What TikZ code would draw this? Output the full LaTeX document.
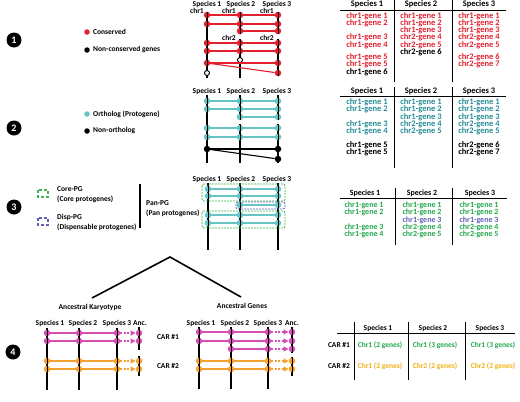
\documentclass[tikz,border=0pt]{standalone}
\usepackage{fontspec}
\setmainfont{Carlito}
\usepackage{tikz}
\usetikzlibrary{arrows.meta}

\definecolor{cRed}{RGB}{228,32,46}
\definecolor{cTeal}{RGB}{102,196,196}
\definecolor{cTealT}{RGB}{38,140,150}
\definecolor{cGreen}{RGB}{34,168,76}
\definecolor{cGreenB}{RGB}{60,180,80}
\definecolor{cPurple}{RGB}{96,96,184}
\definecolor{cPink}{RGB}{214,78,180}
\definecolor{cOrange}{RGB}{246,160,48}
\definecolor{cYellow}{RGB}{240,176,20}

\tikzset{
	gdot/.style={circle, inner sep=0pt, minimum size=6.5pt, path picture={\fill[black] ([xshift=-0.4pt]path picture bounding box.north) rectangle ([xshift=0.4pt]path picture bounding box.south);}},
	rdot/.style={gdot, fill=cRed},
	tdot/.style={gdot, fill=cTeal},
	kdot/.style={gdot, fill=black},
	pdot/.style={gdot, fill=cPink},
	ydot/.style={gdot, fill=cOrange},
	odot/.style={circle, draw=black, fill=white, line width=0.9pt, inner sep=0pt, minimum size=5pt},
	ldot/.style={circle, inner sep=0pt, minimum size=5.5pt},
	chrom/.style={line width=2.2pt},
	glink/.style={line width=1.1pt},
	anclink/.style={line width=1.1pt, dash pattern=on 2pt off 1.5pt, -{Triangle[length=5pt,width=5pt]}},
	num/.style={circle, fill=black, text=white, inner sep=0pt, minimum size=15pt, font=\bfseries\fontsize{10}{10}\selectfont},
	tlbl/.style={inner sep=0pt, font=\bfseries\fontsize{7.5}{8}\selectfont},
	tbig/.style={inner sep=0pt, font=\bfseries\fontsize{8.5}{8.5}\selectfont},
	tmed/.style={inner sep=0pt, font=\bfseries\fontsize{8}{8}\selectfont},
	trule/.style={line width=0.9pt},
	pgbox/.style={dash pattern=on 2pt off 1pt, rounded corners=2pt, line width=0.8pt},
	pgicon/.style={line width=1.6pt, dash pattern=on 3pt off 2pt},
}

\begin{document}
\begin{tikzpicture}[x=1pt, y=-1pt]
		%%%%% START %%%%%
		\useasboundingbox (0,0) rectangle (520,402);
		
		%%% panel 1
		\node[num] (n1) at (14,40) {1};
		\node[ldot, fill=cRed] (lgA1) at (87,32) {};
		\node[tlbl, anchor=west] (lgA1t) at (93,32) {Conserved};
		\node[ldot, fill=black] (lgA2) at (87,50) {};
		\node[tlbl, anchor=west] (lgA2t) at (93,50) {Non-conserved genes};
		
		\node[tlbl] (hA1) at (207,4) {Species 1};
		\node[tlbl] (hA2) at (241,4) {Species 2};
		\node[tlbl] (hA3) at (277,4) {Species 3};
		\node[tlbl, anchor=east] (cA1) at (204,11) {chr1};
		\node[tlbl, anchor=east] (cA2) at (236,11) {chr1};
		\node[tlbl, anchor=east] (cA3) at (274,11) {chr1};
		\node[tlbl, anchor=east] (cA4) at (236,38) {chr2};
		\node[tlbl, anchor=east] (cA5) at (274,38) {chr2};
		
		\draw[chrom] (207,13) -- (207,78);
		\draw[chrom] (240,13) -- (240,34);
		\draw[chrom] (240,39) -- (240,78);
		\draw[chrom] (278,13) -- (278,34);
		\draw[chrom] (278,39) -- (278,76);
		
		\node[rdot] (A11) at (207,15) {};
		\node[rdot] (A12) at (207,24) {};
		\node[rdot] (A14) at (207,43) {};
		\node[rdot] (A15) at (207,51) {};
		\node[rdot] (A16) at (207,63) {};
		\node[odot] (A17) at (207,73) {};
		\node[rdot] (A21) at (240,15) {};
		\node[rdot] (A22) at (240,24) {};
		\node[rdot] (A23) at (240,31) {};
		\node[rdot] (A24) at (240,43) {};
		\node[rdot] (A25) at (240,51) {};
		\node[odot] (A26) at (240,60) {};
		\node[rdot] (A31) at (278,15) {};
		\node[rdot] (A32) at (278,24) {};
		\node[rdot] (A33) at (278,31) {};
		\node[rdot] (A34) at (278,43) {};
		\node[rdot] (A35) at (278,51) {};
		\node[rdot] (A36) at (278,63) {};
		\node[rdot] (A37) at (278,73) {};
		
		\draw[glink, cRed] (A11) -- (A21) -- (A31);
		\draw[glink, cRed] (A12) -- (A22) -- (A32);
		\draw[glink, cRed] (A23) -- (A33);
		\draw[glink, cRed] (A14) -- (A24) -- (A34);
		\draw[glink, cRed] (A15) -- (A25) -- (A35);
		\draw[glink, cRed] (A16) -- (A36);
		\draw[glink, cRed] (A16) -- (A37);
		
		% table 1
		\node[tbig] (TA1) at (367,4) {Species 1};
		\node[tbig] (TA2) at (421,4) {Species 2};
		\node[tbig] (TA3) at (479,4) {Species 3};
		\draw[trule] (340,10) -- (506,10);
		\draw[trule] (394,0) -- (394,82);
		\draw[trule] (452,0) -- (452,82);
		
		\node[tbig, cRed] (gA11) at (367,16) {chr1-gene 1};
		\node[tbig, cRed] (gA12) at (367,23.5) {chr1-gene 2};
		\node[tbig, cRed] (gA13) at (367,37.5) {chr1-gene 3};
		\node[tbig, cRed] (gA14) at (367,45) {chr1-gene 4};
		\node[tbig, cRed] (gA15) at (367,57) {chr1-gene 5};
		\node[tbig, cRed] (gA16) at (367,64.5) {chr1-gene 5};
		\node[tbig] (gA17) at (367,72) {chr1-gene 6};
		\node[tbig, cRed] (gA21) at (421,16) {chr1-gene 1};
		\node[tbig, cRed] (gA22) at (421,23.5) {chr1-gene 2};
		\node[tbig, cRed] (gA23) at (421,30.5) {chr1-gene 3};
		\node[tbig, cRed] (gA24) at (421,37.5) {chr2-gene 4};
		\node[tbig, cRed] (gA25) at (421,45) {chr2-gene 5};
		\node[tbig] (gA26) at (421,52) {chr2-gene 6};
		\node[tbig, cRed] (gA31) at (479,16) {chr1-gene 1};
		\node[tbig, cRed] (gA32) at (479,23.5) {chr1-gene 2};
		\node[tbig, cRed] (gA33) at (479,30.5) {chr1-gene 3};
		\node[tbig, cRed] (gA34) at (479,37.5) {chr2-gene 4};
		\node[tbig, cRed] (gA35) at (479,45) {chr2-gene 5};
		\node[tbig, cRed] (gA36) at (479,57) {chr2-gene 6};
		\node[tbig, cRed] (gA37) at (479,64.5) {chr2-gene 7};
		
		%%% panel 2
		\node[num] (n2) at (14,128) {2};
		\node[ldot, fill=cTeal] (lgB1) at (87,114) {};
		\node[tlbl, anchor=west] (lgB1t) at (93,114) {Ortholog (Protogene)};
		\node[ldot, fill=black] (lgB2) at (87,131) {};
		\node[tlbl, anchor=west] (lgB2t) at (93,131) {Non-ortholog};
		
		\node[tlbl] (hB1) at (207,91) {Species 1};
		\node[tlbl] (hB2) at (241,91) {Species 2};
		\node[tlbl] (hB3) at (277,91) {Species 3};
		
		\draw[chrom] (207,95) -- (207,163);
		\draw[chrom] (240,95) -- (240,120);
		\draw[chrom] (240,124) -- (240,163);
		\draw[chrom] (278,95) -- (278,120);
		\draw[chrom] (278,124) -- (278,163);
		
		\node[tdot] (B11) at (207,101) {};
		\node[tdot] (B12) at (207,109) {};
		\node[tdot] (B14) at (207,128) {};
		\node[tdot] (B15) at (207,137) {};
		\node[kdot] (B16) at (207,149) {};
		\node[tdot] (B21) at (240,101) {};
		\node[tdot] (B22) at (240,109) {};
		\node[tdot] (B23) at (240,117) {};
		\node[tdot] (B24) at (240,128) {};
		\node[tdot] (B25) at (240,137) {};
		\node[tdot] (B31) at (278,101) {};
		\node[tdot] (B32) at (278,109) {};
		\node[tdot] (B33) at (278,117) {};
		\node[tdot] (B34) at (278,128) {};
		\node[tdot] (B35) at (278,137) {};
		\node[kdot] (B36) at (278,149) {};
		\node[kdot] (B37) at (278,159) {};
		
		\draw[glink, cTeal] (B11) -- (B21) -- (B31);
		\draw[glink, cTeal] (B12) -- (B22) -- (B32);
		\draw[glink, cTeal] (B23) -- (B33);
		\draw[glink, cTeal] (B14) -- (B24) -- (B34);
		\draw[glink, cTeal] (B15) -- (B25) -- (B35);
		\draw[glink] (B16) -- (B36);
		\draw[glink] (B16) -- (B37);
		
		% table 2
		\node[tbig] (TB1) at (367,91) {Species 1};
		\node[tbig] (TB2) at (421,91) {Species 2};
		\node[tbig] (TB3) at (479,91) {Species 3};
		\draw[trule] (340,96) -- (506,96);
		\draw[trule] (394,87) -- (394,168);
		\draw[trule] (452,87) -- (452,168);
		
		\node[tbig, cTealT] (gB11) at (367,102) {chr1-gene 1};
		\node[tbig, cTealT] (gB12) at (367,109) {chr1-gene 2};
		\node[tbig, cTealT] (gB13) at (367,124.5) {chr1-gene 3};
		\node[tbig, cTealT] (gB14) at (367,131.5) {chr1-gene 4};
		\node[tbig] (gB15) at (367,145) {chr1-gene 5};
		\node[tbig] (gB16) at (367,152) {chr1-gene 5};
		\node[tbig, cTealT] (gB21) at (421,102) {chr1-gene 1};
		\node[tbig, cTealT] (gB22) at (421,109) {chr1-gene 2};
		\node[tbig, cTealT] (gB23) at (421,117) {chr1-gene 3};
		\node[tbig, cTealT] (gB24) at (421,124.5) {chr2-gene 4};
		\node[tbig, cTealT] (gB25) at (421,131.5) {chr2-gene 5};
		\node[tbig, cTealT] (gB31) at (479,102) {chr1-gene 1};
		\node[tbig, cTealT] (gB32) at (479,109) {chr1-gene 2};
		\node[tbig, cTealT] (gB33) at (479,117) {chr1-gene 3};
		\node[tbig, cTealT] (gB34) at (479,124.5) {chr2-gene 4};
		\node[tbig, cTealT] (gB35) at (479,131.5) {chr2-gene 5};
		\node[tbig] (gB36) at (479,145) {chr2-gene 6};
		\node[tbig] (gB37) at (479,152) {chr2-gene 7};
		
		%%% panel 3
		\node[num] (n3) at (14,207) {3};
		\draw[pgicon, cGreenB] (38,190) rectangle (48,197);
		\node[tlbl, anchor=west] (lgC1) at (57,189) {Core-PG};
		\node[tlbl, anchor=west] (lgC1b) at (57,199) {(Core protogenes)};
		\draw[pgicon, cPurple] (38,218) rectangle (48,225);
		\node[tlbl, anchor=west] (lgC2) at (57,217) {Disp-PG};
		\node[tlbl, anchor=west] (lgC2b) at (57,227) {(Dispensable protogenes)};
		\draw[line width=1.6pt] (140,184) -- (140,228);
		\node[tlbl, anchor=west] (lgC3) at (146,203) {Pan-PG};
		\node[tlbl, anchor=west] (lgC3b) at (146,213) {(Pan protogenes)};
		
		\node[tlbl] (hC1) at (207,179) {Species 1};
		\node[tlbl] (hC2) at (241,179) {Species 2};
		\node[tlbl] (hC3) at (277,179) {Species 3};
		
		\draw[chrom] (208,183) -- (208,250);
		\draw[chrom] (240,183) -- (240,250);
		\draw[chrom] (278,183) -- (278,250);
		
		\node[tdot] (C11) at (208,189) {};
		\node[tdot] (C12) at (208,196) {};
		\node[tdot] (C14) at (208,215) {};
		\node[tdot] (C15) at (208,223) {};
		\node[tdot] (C21) at (240,189) {};
		\node[tdot] (C22) at (240,196) {};
		\node[tdot] (C23) at (240,205) {};
		\node[tdot] (C24) at (240,215) {};
		\node[tdot] (C25) at (240,223) {};
		\node[tdot] (C31) at (278,189) {};
		\node[tdot] (C32) at (278,196) {};
		\node[tdot] (C33) at (278,205) {};
		\node[tdot] (C34) at (278,215) {};
		\node[tdot] (C35) at (278,223) {};
		
		\draw[glink, cTeal] (C11) -- (C21) -- (C31);
		\draw[glink, cTeal] (C12) -- (C22) -- (C32);
		\draw[glink, cTeal] (C23) -- (C33);
		\draw[glink, cTeal] (C14) -- (C24) -- (C34);
		\draw[glink, cTeal] (C15) -- (C25) -- (C35);
		
		\draw[pgbox, cGreenB] (202,184) rectangle (285,201);
		\draw[pgbox, cPurple] (236,202) rectangle (285,209);
		\draw[pgbox, cGreenB] (202,211) rectangle (285,228);
		
		% table 3
		\node[tmed] (TC1) at (365,193) {Species 1};
		\node[tmed] (TC2) at (422,193) {Species 2};
		\node[tmed] (TC3) at (480,193) {Species 3};
		\draw[trule] (340,198) -- (507,198);
		\draw[trule] (395,188) -- (395,245);
		\draw[trule] (452,188) -- (452,245);
		
		\node[tmed, cGreen] (gC11) at (364,205) {chr1-gene 1};
		\node[tmed, cGreen] (gC12) at (364,212.7) {chr1-gene 2};
		\node[tmed, cGreen] (gC13) at (364,227.3) {chr1-gene 3};
		\node[tmed, cGreen] (gC14) at (364,234) {chr1-gene 4};
		\node[tmed, cGreen] (gC21) at (422,205) {chr1-gene 1};
		\node[tmed, cGreen] (gC22) at (422,212.7) {chr1-gene 2};
		\node[tmed, cPurple] (gC23) at (422,220.3) {chr1-gene 3};
		\node[tmed, cGreen] (gC24) at (422,227.3) {chr2-gene 4};
		\node[tmed, cGreen] (gC25) at (422,234) {chr2-gene 5};
		\node[tmed, cGreen] (gC31) at (479,205) {chr1-gene 1};
		\node[tmed, cGreen] (gC32) at (479,212.7) {chr1-gene 2};
		\node[tmed, cPurple] (gC33) at (479,220.3) {chr1-gene 3};
		\node[tmed, cGreen] (gC34) at (479,227.3) {chr2-gene 4};
		\node[tmed, cGreen] (gC35) at (479,234) {chr2-gene 5};
		
		% split
		\draw[line width=1.6pt] (92,298) -- (170,257) -- (241,297);
		
		%%% panel 4
		\node[num] (n4) at (13,352) {4};
		\node[tlbl] (kary) at (90,307) {Ancestral Karyotype};
		\node[tlbl] (agen) at (242,306) {Ancestral Genes};
		
		% ancestral karyotype
		\node[tlbl] (hD1) at (50,323) {Species 1};
		\node[tlbl] (hD2) at (83,323) {Species 2};
		\node[tlbl] (hD3) at (117,323) {Species 3};
		\node[tlbl] (hD4) at (140,323) {Anc.};
		
		\draw[chrom] (47,328) -- (47,390);
		\draw[chrom] (79,328) -- (79,390);
		\draw[chrom] (117,328) -- (117,390);
		\draw[chrom] (139,327) -- (139,350);
		\draw[chrom] (139,356) -- (139,376);
		
		\node[pdot] (D11) at (47,333) {};
		\node[pdot] (D12) at (47,341) {};
		\node[ydot] (D13) at (47,361) {};
		\node[ydot] (D14) at (47,369) {};
		\node[pdot] (D21) at (79,333) {};
		\node[pdot] (D22) at (79,341) {};
		\node[ydot] (D23) at (79,361) {};
		\node[ydot] (D24) at (79,369) {};
		\node[pdot] (D31) at (117,333) {};
		\node[pdot] (D32) at (117,341) {};
		\node[ydot] (D33) at (117,361) {};
		\node[ydot] (D34) at (117,369) {};
		\node[pdot] (D41) at (139,333) {};
		\node[pdot] (D42) at (139,341) {};
		\node[ydot] (D43) at (139,361) {};
		\node[ydot] (D44) at (139,369) {};
		
		\draw[glink, cPink] (D11) -- (D21) -- (D31);
		\draw[glink, cPink] (D12) -- (D22) -- (D32);
		\draw[glink, cOrange] (D13) -- (D23) -- (D33);
		\draw[glink, cOrange] (D14) -- (D24) -- (D34);
		\draw[anclink, cPink] (D31) -- (D41);
		\draw[anclink, cPink] (D32) -- (D42);
		\draw[anclink, cOrange] (D33) -- (D43);
		\draw[anclink, cOrange] (D34) -- (D44);
		
		\node[tlbl] (car1) at (168,337) {CAR \#1};
		\node[tlbl] (car2) at (168,366) {CAR \#2};
		
		% ancestral genes
		\node[tlbl] (hE1) at (201,323) {Species 1};
		\node[tlbl] (hE2) at (235,323) {Species 2};
		\node[tlbl] (hE3) at (268,323) {Species 3};
		\node[tlbl] (hE4) at (292,323) {Anc.};
		
		\draw[chrom] (199,327) -- (199,389);
		\draw[chrom] (231,327) -- (231,389);
		\draw[chrom] (268,327) -- (268,389);
		\draw[chrom] (292,327) -- (292,353);
		\draw[chrom] (292,357) -- (292,376);
		
		\node[pdot] (E11) at (199,332) {};
		\node[pdot] (E12) at (199,341) {};
		\node[ydot] (E14) at (199,361) {};
		\node[ydot] (E15) at (199,369) {};
		\node[pdot] (E21) at (231,332) {};
		\node[pdot] (E22) at (231,341) {};
		\node[pdot] (E23) at (231,349) {};
		\node[ydot] (E24) at (231,361) {};
		\node[ydot] (E25) at (231,369) {};
		\node[pdot] (E31) at (268,332) {};
		\node[pdot] (E32) at (268,341) {};
		\node[pdot] (E33) at (268,349) {};
		\node[ydot] (E34) at (268,361) {};
		\node[ydot] (E35) at (268,369) {};
		\node[pdot] (E41) at (292,332) {};
		\node[pdot] (E42) at (292,341) {};
		\node[pdot] (E43) at (292,349) {};
		\node[ydot] (E44) at (292,361) {};
		\node[ydot] (E45) at (292,369) {};
		
		\draw[glink, cPink] (E11) -- (E21) -- (E31);
		\draw[glink, cPink] (E12) -- (E22) -- (E32);
		\draw[glink, cPink] (E23) -- (E33);
		\draw[glink, cOrange] (E14) -- (E24) -- (E34);
		\draw[glink, cOrange] (E15) -- (E25) -- (E35);
		\draw[anclink, cPink] (E31) -- (E41);
		\draw[anclink, cPink] (E32) -- (E42);
		\draw[anclink, cPink] (E33) -- (E43);
		\draw[anclink, cOrange] (E34) -- (E44);
		\draw[anclink, cOrange] (E35) -- (E45);
		
		% table 4
		\node[tlbl] (TD1) at (378,328) {Species 1};
		\node[tlbl] (TD2) at (433,328) {Species 2};
		\node[tlbl] (TD3) at (490,328) {Species 3};
		\draw[trule] (337,333) -- (515,333);
		\draw[trule] (354,322) -- (354,380);
		\draw[trule] (408,322) -- (408,380);
		\draw[trule] (465,322) -- (465,380);
		
		\node[tlbl] (rD1) at (339,345) {CAR \#1};
		\node[tlbl] (rD2) at (339,366) {CAR \#2};
		\node[tlbl, cGreen] (gD11) at (380,345) {Chr1 (2 genes)};
		\node[tlbl, cGreen] (gD21) at (435,345) {Chr1 (3 genes)};
		\node[tlbl, cGreen] (gD31) at (493,345) {Chr1 (3 genes)};
		\node[tlbl, cYellow] (gD12) at (380,366) {Chr1 (2 genes)};
		\node[tlbl, cYellow] (gD22) at (435,366) {Chr2 (2 genes)};
		\node[tlbl, cYellow] (gD32) at (493,366) {Chr2 (2 genes)};
		
		%%%%% END %%%%%
	\end{tikzpicture}
\end{document}
